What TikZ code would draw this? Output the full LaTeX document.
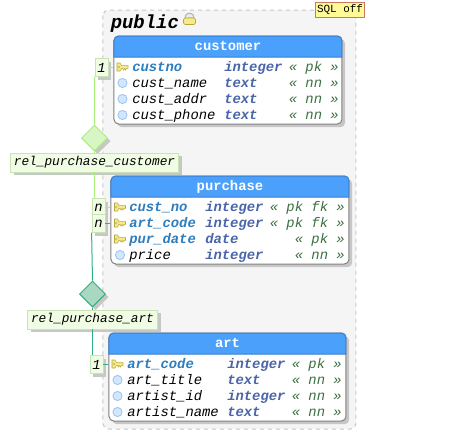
\documentclass[tikz,border=0pt]{standalone}
\usepackage{fontspec}
\setmonofont{Liberation Mono}
\usetikzlibrary{shapes.geometric,shadows}
\definecolor{headblue}{HTML}{4BA0FB}
\definecolor{headline}{HTML}{3A80D0}
\definecolor{keyblue}{HTML}{2E7DBE}
\definecolor{typeblue}{HTML}{4A65A8}
\definecolor{flaggreen}{HTML}{3A7040}
\definecolor{labelfill}{HTML}{F0FCE4}
\definecolor{labelline}{HTML}{C8E4B4}
\definecolor{custline}{HTML}{A8F078}
\definecolor{custfill}{HTML}{D8F5C4}
\definecolor{artline}{HTML}{30B080}
\definecolor{artfill}{HTML}{A8D8C0}
\definecolor{keyfill}{HTML}{F6EA8C}
\definecolor{keyline}{HTML}{B8A83C}
\definecolor{nnfill}{HTML}{D2E6FC}
\definecolor{nnline}{HTML}{98C4F0}
\definecolor{sqlline}{HTML}{C87860}
\definecolor{sqlfill}{HTML}{FFFA96}
\tikzset{
  softshadow/.style={drop shadow={shadow xshift=2.4pt,shadow yshift=-2.4pt,fill=black!22,opacity=1}},
  tablebody/.style={draw=black!50,fill=white,line width=0.75pt,rounded corners=3.5pt,inner sep=0pt,softshadow},
  headbar/.style={draw=headline,fill=headblue,line width=0.75pt},
  tabletitle/.style={anchor=base,inner sep=0pt,text=white,font=\ttfamily\bfseries\fontsize{10.4}{12}\selectfont},
  rowname/.style={anchor=base west,inner sep=0pt,font=\ttfamily\itshape\fontsize{10.4}{12}\selectfont},
  keyname/.style={rowname,text=keyblue,font=\ttfamily\bfseries\itshape\fontsize{10.4}{12}\selectfont},
  rowtype/.style={rowname,text=typeblue,font=\ttfamily\bfseries\itshape\fontsize{10.4}{12}\selectfont},
  rowflag/.style={anchor=base east,inner sep=0pt,text=flaggreen,font=\ttfamily\itshape\fontsize{10.4}{12}\selectfont},
  cardbox/.style={draw=labelline,fill=labelfill,line width=0.6pt,minimum width=9.75pt,minimum height=13.2pt,inner sep=0pt,softshadow,font=\ttfamily\itshape\fontsize{10.4}{12}\selectfont},
  rellabel/.style={draw=labelline,fill=labelfill,line width=0.6pt,minimum height=14pt,inner sep=2.6pt,softshadow,font=\ttfamily\itshape\fontsize{9.6}{12}\selectfont},
  reldiamond/.style={diamond,shape aspect=1,minimum size=19.5pt,inner sep=0pt,line width=0.75pt,softshadow},
  custrel/.style={draw=custline,line width=0.75pt},
  artrel/.style={draw=artline,line width=0.75pt},
  pics/pkey/.style={code={
    \draw[fill=keyfill,draw=keyline,line width=0.4pt]
      (-5.5,4) -- (-2.5,4) -- (-1,1.4) -- (5.5,1.4) -- (5.5,-1.4) -- (4,-1.4) -- (3,-3) -- (2,-1.4) -- (1,-3) -- (0,-1.4) -- (-1,-1.4) -- (-2.5,-4) -- (-5.5,-4) -- cycle;
    \draw[fill=white,draw=keyline,line width=0.3pt] (-3.6,0) circle (1);
  }},
  pics/nnmark/.style={code={
    \draw[fill=nnfill,draw=nnline,line width=0.6pt] (0,0) circle (4.6);
  }},
  pics/lockmark/.style={code={
    \draw[fill=black!8,draw=black!30,line width=0.75pt] (-4.4,2) .. controls (-4.4,8.6) and (4.4,8.6) .. (4.4,2) -- cycle;
    \draw[fill=keyfill,draw=keyline,line width=0.5pt,rounded corners=1.5pt] (-6,2) rectangle (6,-4.5);
  }}
}
\begin{document}
\begin{tikzpicture}[x=0.75pt,y=0.75pt,yscale=-1,xscale=1]
\useasboundingbox (0,0) rectangle (455,440);

%Shape: schema area
\draw[dashed,draw=black!22,fill=black!4,line width=0.75pt,rounded corners=4pt] (103,10) rectangle (356,429);
% Text Node
\node[anchor=base west,inner sep=0pt,font=\ttfamily\bfseries\itshape\fontsize{14.2}{16}\selectfont] (schemaname) at (110.5,28) {public};
\pic at (189.5,20) {lockmark};
% Text Node
\node[draw=sqlline,fill=sqlfill,line width=0.75pt,minimum width=36.5pt,minimum height=11.5pt,inner sep=0pt,font=\ttfamily\fontsize{8.2}{10}\selectfont] (sqlflag) at (340,10) {SQL off};

%Table customer
\node[tablebody,minimum width=171pt,minimum height=66pt] (customer) at (228,80) {};
\draw[headbar] (114,57) [rounded corners=3.5pt] -- (114,36) -- (342,36) [sharp corners] -- (342,57) -- cycle;
\node[tabletitle] (customertitle) at (228,50.5) {customer};
\pic at (122.5,67) {pkey};
\pic at (122.5,83) {nnmark};
\pic at (122.5,99) {nnmark};
\pic at (122.5,115) {nnmark};
\node[keyname] (custno) at (132,71) {custno};
\node[rowtype] (custnotype) at (224,71) {integer};
\node[rowflag] (custnoflag) at (339,71) {« pk »};
\node[rowname] (custname) at (132,87) {cust\_name};
\node[rowtype] (custnametype) at (224,87) {text};
\node[rowflag] (custnameflag) at (339,87) {« nn »};
\node[rowname] (custaddr) at (132,103) {cust\_addr};
\node[rowtype] (custaddrtype) at (224,103) {text};
\node[rowflag] (custaddrflag) at (339,103) {« nn »};
\node[rowname] (custphone) at (132,119) {cust\_phone};
\node[rowtype] (custphonetype) at (224,119) {text};
\node[rowflag] (custphoneflag) at (339,119) {« nn »};

%Table purchase
\node[tablebody,minimum width=178.5pt,minimum height=66pt] (purchase) at (230,220) {};
\draw[headbar] (111,197) [rounded corners=3.5pt] -- (111,176) -- (349,176) [sharp corners] -- (349,197) -- cycle;
\node[tabletitle] (purchasetitle) at (230,190.5) {purchase};
\pic at (120,207) {pkey};
\pic at (120,223) {pkey};
\pic at (120,239) {pkey};
\pic at (120,255) {nnmark};
\node[keyname] (pcustno) at (129,211) {cust\_no};
\node[rowtype] (pcustnotype) at (205,211) {integer};
\node[rowflag] (pcustnoflag) at (345,211) {« pk fk »};
\node[keyname] (partcode) at (129,227) {art\_code};
\node[rowtype] (partcodetype) at (205,227) {integer};
\node[rowflag] (partcodeflag) at (345,227) {« pk fk »};
\node[keyname] (purdate) at (129,243) {pur\_date};
\node[rowtype] (purdatetype) at (205,243) {date};
\node[rowflag] (purdateflag) at (345,243) {« pk »};
\node[rowname] (price) at (129,259) {price};
\node[rowtype] (pricetype) at (205,259) {integer};
\node[rowflag] (priceflag) at (345,259) {« nn »};

%Table art
\node[tablebody,minimum width=177.75pt,minimum height=66pt] (art) at (227.5,377) {};
\draw[headbar] (109,354) [rounded corners=3.5pt] -- (109,333) -- (346,333) [sharp corners] -- (346,354) -- cycle;
\node[tabletitle] (arttitle) at (227.5,347.5) {art};
\pic at (117.5,364) {pkey};
\pic at (117.5,380) {nnmark};
\pic at (117.5,396) {nnmark};
\pic at (117.5,412) {nnmark};
\node[keyname] (artcode) at (127,368) {art\_code};
\node[rowtype] (artcodetype) at (227,368) {integer};
\node[rowflag] (artcodeflag) at (342,368) {« pk »};
\node[rowname] (arttitlerow) at (127,384) {art\_title};
\node[rowtype] (arttitletype) at (227,384) {text};
\node[rowflag] (arttitleflag) at (342,384) {« nn »};
\node[rowname] (artistid) at (127,400) {artist\_id};
\node[rowtype] (artistidtype) at (227,400) {integer};
\node[rowflag] (artistidflag) at (342,400) {« nn »};
\node[rowname] (artistname) at (127,416) {artist\_name};
\node[rowtype] (artistnametype) at (227,416) {text};
\node[rowflag] (artistnameflag) at (342,416) {« nn »};

%Relation purchase customer
\node[reldiamond,draw=custline,fill=custfill] (custdiamond) at (94.5,138) {};
\node[rellabel] (custlabel) at (94.5,162.5) {rel\_purchase\_customer};
\node[cardbox] (custone) at (101.5,67.5) {1};
\node[cardbox] (custmany) at (98.5,207.5) {n};
\draw[custrel] (custone.east) -- (custone.east -| customer.west);
\draw[custrel] (custone.south west) -- (custdiamond.north);
\draw[custrel] (custdiamond.south) -- (custlabel.north);
\draw[custrel] (custlabel.south) -- (custlabel.south |- custmany.north);
\draw[custrel] (custmany.east) -- (custmany.east -| purchase.west);

%Relation purchase art
\node[reldiamond,draw=artline,fill=artfill] (artdiamond) at (92.5,294) {};
\node[rellabel] (artlabel) at (92.5,319.5) {rel\_purchase\_art};
\node[cardbox] (artmany) at (98.5,223.5) {n};
\node[cardbox] (artone) at (96.5,364.5) {1};
\draw[artrel] (artmany.east) -- (artmany.east -| purchase.west);
\draw[artrel] (artmany.south west) -- (artdiamond.north);
\draw[artrel] (artdiamond.south) -- (artlabel.north);
\draw[artrel] (artlabel.south) -- (artlabel.south |- artone.north);
\draw[artrel] (artone.east) -- (artone.east -| art.west);

\end{tikzpicture}
\end{document}
